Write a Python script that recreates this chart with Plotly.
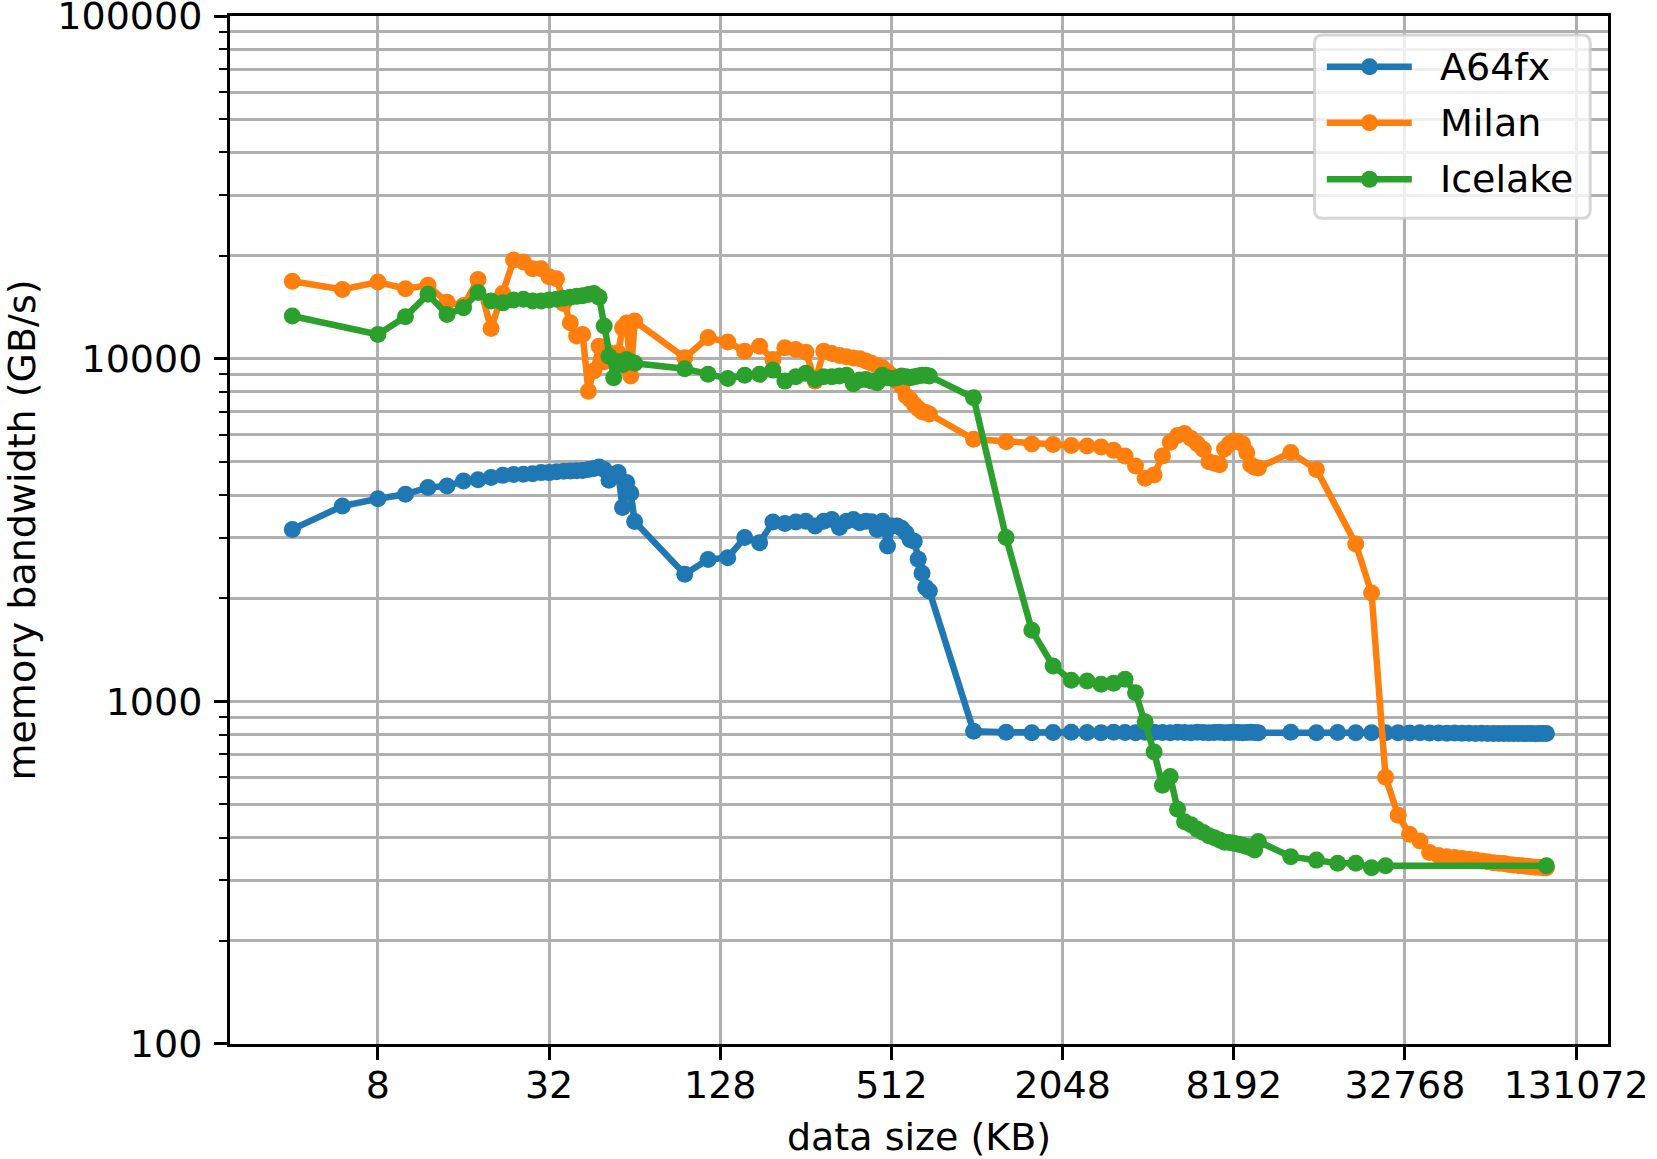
import math
import plotly.graph_objects as go

# ---------------- data (KB, GB/s) ----------------
size_seg1 = [4, 6, 8, 10, 12, 14, 16, 18, 20, 22, 24, 26, 28, 30, 32, 34, 36, 38, 40, 42,
             44, 46, 48, 50, 52, 54, 56, 58, 60, 62, 64]
size_seg2 = [96, 116, 136, 156, 176, 196, 216, 236, 256, 276, 296, 316, 336, 356, 376, 396,
             416, 436, 456, 476, 496, 516, 536, 556, 576, 596, 616, 636, 656, 676, 696]
size_seg3 = [996, 1296, 1596, 1896, 2196, 2496, 2796, 3096, 3396, 3696, 3996, 4296, 4596,
             4896, 5196, 5496, 5796, 6096, 6396, 6696, 6996, 7296, 7596, 7896, 8196, 8496,
             8796, 9096, 9396, 9696, 9996]
size_seg4 = [12996, 15996, 18996, 21996, 24996, 27996, 30996, 33996, 36996, 39996, 42996,
             45996, 48996, 51996, 54996, 57996, 60996, 63996, 66996, 69996, 72996, 75996,
             78996, 81996, 84996, 87996, 90996, 93996, 96996, 99996, 102996]
data_size_kb = size_seg1 + size_seg2 + size_seg3 + size_seg4

a64fx_seg1 = [3175, 3715, 3900, 4020, 4210, 4250, 4395, 4430, 4500, 4565, 4595, 4600, 4615,
              4650, 4650, 4680, 4690, 4700, 4710, 4720, 4750, 4780, 4830, 4750, 4420, 4600,
              4650, 3680, 4350, 4050, 3350]
a64fx_seg2 = [2350, 2595, 2625, 3005, 2905, 3335, 3305, 3335, 3355, 3250, 3355, 3395, 3215,
              3355, 3395, 3320, 3355, 3340, 3175, 3355, 2840, 3250, 3250, 3200, 3100, 2960,
              2930, 2600, 2365, 2150, 2100]
a64fx_seg3 = [818, 812, 810, 811, 812, 811, 810, 812, 811, 810, 812, 813, 811, 810, 812, 811,
              810, 812, 811, 810, 811, 812, 810, 811, 812, 811, 810, 811, 812, 811, 810]
a64fx_seg4 = [812, 810, 811, 810, 809, 810, 809, 808, 809, 808, 808, 807, 808, 807, 807, 806,
              807, 806, 806, 806, 805, 806, 805, 805, 806, 805, 805, 804, 805, 805, 805]
a64fx = a64fx_seg1 + a64fx_seg2 + a64fx_seg3 + a64fx_seg4

milan_seg1 = [16830, 15920, 16740, 16000, 16370, 14600, 14300, 17020, 12240, 15500, 19400,
              19140, 18310, 18310, 17350, 17100, 14500, 12740, 11640, 11770, 8040, 9200,
              10880, 9800, 10400, 10000, 10400, 12300, 12700, 8900, 12880]
milan_seg2 = [10070, 11520, 11180, 10520, 10880, 9950, 10770, 10640, 10450, 8600, 10520,
              10360, 10220, 10130, 10050, 10000, 9840, 9700, 9550, 9410, 9150, 8900, 8600,
              8300, 7800, 7600, 7350, 7150, 7000, 6960, 6900]
milan_seg3 = [5820, 5720, 5640, 5620, 5580, 5560, 5520, 5400, 5200, 4860, 4480, 4580, 5200,
              5700, 5970, 6050, 5850, 5650, 5440, 5000, 4950, 4900, 5450, 5650, 5750, 5720,
              5650, 5320, 4900, 4820, 4800]
milan_seg4 = [5320, 4750, None, 2880, 2070, 600, 465, 409, 391, 362, 355, 352, 350, 348, 346,
              344, 342, 340, 338, 337, 336, 334, 333, 332, 331, 330, 329, 328, 328, 327, 327]
milan = milan_seg1 + milan_seg2 + milan_seg3 + milan_seg4

icelake_seg1 = [13320, None, 11770, 13265, 15410, 13460, 14090, 15590, 14730, 14550, 14830,
                14900, 14730, 14730, 14830, 14900, 15000, 15100, 15200, 15260, 15400, 15500,
                15100, 12450, 10170, 8800, 9800, 9600, 9950, 9800, 9700]
icelake_seg2 = [9350, 9000, 8750, 8940, 9000, 9260, 8600, 8860, 9060, 8700, 8860, 8860, 8900,
                8940, 8450, 8660, 8700, 8600, 8500, 8940, 8800, 8750, 8800, 8900, 8850, 8800,
                8850, 8900, 8950, 8950, 8900]
icelake_seg3 = [7690, 3005, 1611, 1268, 1153, 1146, 1121, 1130, 1160, 1059, 871, 711, 569,
                603, 484, 445, 436, 423, 414, 405, 400, 394, 388, 387, 385, 383, 380, 377,
                374, 368, 390]
icelake_seg4 = [352, 344, 337, 337, 327, 331] + [None] * 24 + [331]
icelake = icelake_seg1 + icelake_seg2 + icelake_seg3 + icelake_seg4

series_names = ["A64fx", "Milan", "Icelake"]
series_values = [a64fx, milan, icelake]
series_colors = ["#1f77b4", "#ff7f0e", "#2ca02c"]

x_tick_vals = [8, 32, 128, 512, 2048, 8192, 32768, 131072]
x_tick_text = ["8", "32", "128", "512", "2048", "8192", "32768", "131072"]
y_tick_vals = [100, 1000, 10000, 100000]
y_tick_text = ["100", "1000", "10000", "100000"]
y_minor_vals = [m * 10 ** e for e in (2, 3, 4) for m in range(2, 10)]

# ---------------- figure ----------------
W, H = 1657, 1159
L, R, T, B = 230.4, 1608.5, 15.9, 1044.1
FONT = "DejaVu Sans"
FS = 38

fig = go.Figure()
for name, ys, col in zip(series_names, series_values, series_colors):
    fig.add_trace(go.Scatter(
        x=data_size_kb, y=ys, name=name, mode="lines+markers",
        line=dict(color=col, width=6.5), marker=dict(color=col, size=17),
        connectgaps=True, showlegend=False))


def px_x(px):
    return (px - L) / (R - L)


def px_y(py):
    return (B - py) / (B - T)


shapes = []
# legend frame (rounded)
bx0, bx1, by0, by1 = 1315.0, 1590.7, 35.0, 218.3
r = 8.0
rx, ry = r / (R - L), r / (B - T)
X0, X1, Y0, Y1 = px_x(bx0), px_x(bx1), px_y(by1), px_y(by0)
path = (f"M {X0+rx},{Y0} L {X1-rx},{Y0} Q {X1},{Y0} {X1},{Y0+ry} "
        f"L {X1},{Y1-ry} Q {X1},{Y1} {X1-rx},{Y1} L {X0+rx},{Y1} "
        f"Q {X0},{Y1} {X0},{Y1-ry} L {X0},{Y0+ry} Q {X0},{Y0} {X0+rx},{Y0} Z")
shapes.append(dict(type="path", path=path, xref="paper", yref="paper",
                   fillcolor="rgba(255,255,255,0.8)",
                   line=dict(color="rgba(204,204,204,0.8)", width=3), layer="above"))
annotations = []
leg_rows = [66.7, 122.7, 179.3]
for name, col, py in zip(series_names, series_colors, leg_rows):
    shapes.append(dict(type="line", xref="paper", yref="paper",
                       x0=px_x(1327.3), x1=px_x(1412.3), y0=px_y(py), y1=px_y(py),
                       line=dict(color=col, width=6.5), layer="above"))
    shapes.append(dict(type="circle", xref="paper", yref="paper",
                       xsizemode="pixel", ysizemode="pixel",
                       xanchor=px_x(1370), yanchor=px_y(py),
                       x0=-8.5, x1=8.5, y0=-8.5, y1=8.5,
                       fillcolor=col, line=dict(color=col, width=0), layer="above"))
    annotations.append(dict(text=name, xref="paper", yref="paper",
                            x=px_x(1438), y=px_y(py), xanchor="left", yanchor="middle",
                            showarrow=False, font=dict(family=FONT, size=FS, color="black")))

axis_common = dict(
    ticks="outside", ticklen=13, tickwidth=3, tickcolor="black",
    showgrid=True, gridcolor="#b0b0b0", gridwidth=3,
    showline=True, linecolor="black", linewidth=3, mirror=True,
    zeroline=False, tickfont=dict(family=FONT, size=FS, color="black"),
    ticklabeloverflow="allow",
)

fig.update_layout(
    width=W, height=H,
    margin=dict(l=L, r=W - R, t=T, b=H - B, pad=0),
    paper_bgcolor="white", plot_bgcolor="white",
    font=dict(family=FONT, size=FS, color="black"),
    xaxis=dict(type="log",
               range=[math.log10(2) * 1.272, math.log10(2) * 17.372],
               tickmode="array", tickvals=x_tick_vals, ticktext=x_tick_text,
               ticklabelstandoff=-8,
               title=dict(text="data size (KB)", standoff=26,
                          font=dict(family=FONT, size=FS, color="black")),
               automargin=False, **axis_common),
    yaxis=dict(type="log", range=[1.9999, 5.0001],
               tickmode="array", tickvals=y_tick_vals, ticktext=y_tick_text,
               ticklabelstandoff=4,
               minor=dict(tickmode="array", tickvals=y_minor_vals, ticks="outside",
                          ticklen=7.6, tickwidth=2.3, tickcolor="black",
                          showgrid=True, gridcolor="#b0b0b0", gridwidth=3),
               title=dict(text="memory bandwidth (GB/s)", standoff=36,
                          font=dict(family=FONT, size=FS, color="black")),
               automargin=False, **axis_common),
    shapes=shapes, annotations=annotations,
)

fig.write_html("out.html")
